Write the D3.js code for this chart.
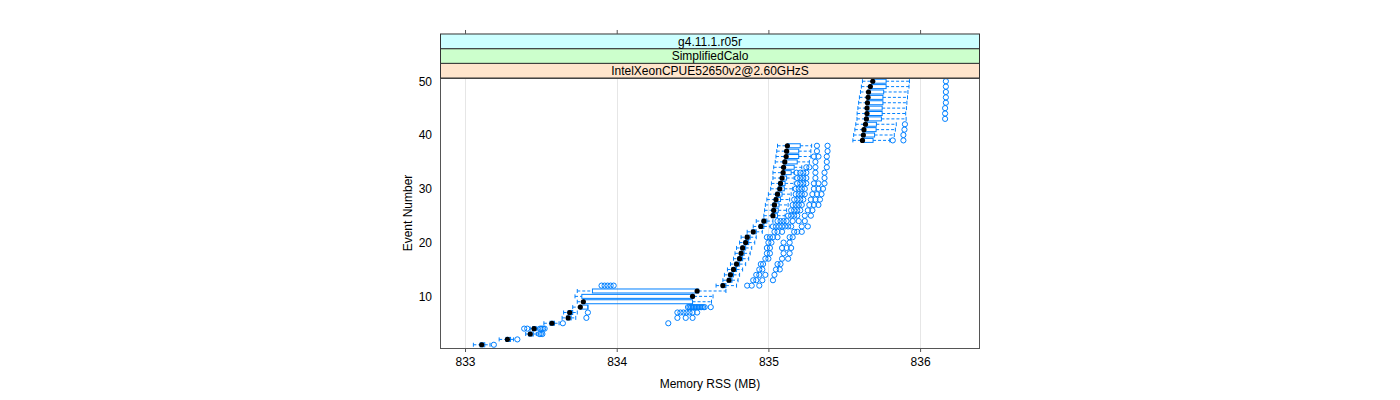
<!DOCTYPE html>
<html><head><meta charset="utf-8">
<script src="https://cdn.jsdelivr.net/npm/d3@7"></script>
<style>body{margin:0;background:#fff}text{font-family:"Liberation Sans",Arial,sans-serif}</style>
</head><body><svg id="c" width="1400" height="400"></svg>
<script>
const events = [1,2,3,4,5,6,7,8,9,10,11,12,13,14,15,16,17,18,19,20,21,22,23,24,25,26,27,28,29,30,31,32,33,34,35,36,37,38,39,40,41,42,43,44,45,46,47,48,49,50];
const wlo = [833.055,833.225,833.40,833.43,833.52,833.64,833.65,833.71,833.74,833.725,833.74,834.655,
  834.70,834.71,834.73,834.75,834.77,834.78,834.79,834.81,834.82,834.86,834.90,834.92,
  834.97,834.975,834.98,834.99,835.00,835.015,835.02,835.03,835.03,835.035,835.045,835.05,835.055,835.06,
  835.557,835.562,835.57,835.576,835.584,835.585,835.59,835.595,835.60,835.607,835.613,835.62];
const q1 = [833.10,833.27,833.42,833.445,833.56,833.67,833.68,833.76,833.78,833.77,833.84,834.69,
  834.73,834.74,834.76,834.78,834.80,834.81,834.82,834.84,834.85,834.89,834.94,834.96,
  835.02,835.025,835.03,835.04,835.05,835.065,835.07,835.08,835.095,835.10,835.105,835.115,835.12,835.125,
  835.615,835.62,835.625,835.635,835.64,835.645,835.645,835.648,835.652,835.655,835.667,835.683];
const med = [833.11,833.28,833.43,833.455,833.573,833.68,833.69,833.76,833.78,834.50,834.53,834.70,
  834.74,834.75,834.77,834.79,834.81,834.82,834.83,834.85,834.86,834.90,834.95,834.97,
  835.03,835.035,835.04,835.05,835.06,835.075,835.08,835.09,835.097,835.10,835.108,835.117,835.12,835.125,
  835.62,835.626,835.63,835.64,835.646,835.65,835.65,835.653,835.657,835.66,835.672,835.688];
const q3 = [833.13,833.30,833.45,833.47,833.59,833.70,833.71,833.81,834.50,834.51,834.54,834.72,
  834.76,834.77,834.79,834.81,834.83,834.84,834.85,834.87,834.88,834.92,834.97,834.99,
  835.06,835.065,835.07,835.08,835.09,835.105,835.11,835.12,835.15,835.17,835.19,835.20,835.20,835.21,
  835.69,835.70,835.71,835.712,835.745,835.75,835.75,835.755,835.755,835.76,835.776,835.776];
const whi = [833.165,833.32,833.47,833.48,833.62,833.73,833.74,833.81,834.625,834.635,834.72,834.79,
  834.80,834.81,834.83,834.85,834.87,834.88,834.89,834.91,834.92,834.96,835.01,835.03,
  835.11,835.12,835.13,835.14,835.15,835.16,835.17,835.17,835.17,835.22,835.27,835.28,835.28,835.285,
  835.80,835.83,835.837,835.843,835.908,835.905,835.91,835.913,835.917,835.92,835.927,835.93];
const outliers = [
  [833.19],[833.345],[833.49,833.50,833.51],[833.39,833.41,833.495,833.505,833.515,833.525],
  [833.645,834.34],[833.80,834.40,834.455,834.50],
  [833.81,834.40,834.42,834.44,834.46,834.48,834.50,834.53],
  [834.47,834.48,834.49,834.50,834.51,834.52,834.53,834.54,834.55,834.56,834.57,834.58,834.62],
  [],[],[],
  [833.90,833.92,833.94,833.96,833.98,834.86,834.89,834.94],
  [834.90,834.92,834.96,835.03],[834.92,834.94,834.98,835.04],[834.94,834.96,835.05,835.075],
  [834.95,834.965,835.06,835.08],[834.98,835.00,835.09,835.13],[834.99,835.01,835.10,835.14],
  [834.99,835.01,835.09,835.12,835.15],[835.00,835.02,835.10,835.14],
  [834.99,835.01,835.03,835.06,835.14,835.16],[835.04,835.06,835.09,835.17,835.19,835.22],
  [835.03,835.05,835.07,835.09,835.11,835.13,835.15,835.22,835.26],
  [835.06,835.08,835.10,835.12,835.16,835.20,835.24],
  [835.13,835.15,835.17,835.19,835.24,835.28],[835.15,835.17,835.19,835.21,835.26,835.29],
  [835.16,835.18,835.20,835.22,835.27,835.30,835.33],[835.17,835.19,835.21,835.23,835.28,835.31,835.34],
  [835.18,835.20,835.22,835.24,835.29,835.32,835.35],[835.18,835.20,835.22,835.24,835.30,835.33,835.36],
  [835.19,835.21,835.23,835.25,835.30,835.33,835.37],[835.19,835.21,835.23,835.25,835.31,835.37],
  [835.185,835.21,835.23,835.25,835.31,835.37],[835.25,835.27,835.31,835.385],
  [835.31,835.385],[835.30,835.33,835.385],[835.32,835.39],[835.32,835.39],
  [835.82,835.89],[835.89],[835.897],[835.90],
  [836.165],[836.165],[836.165],[836.17],[836.17],[836.17],[836.17],[836.17]
];
const xTicks = [833,834,835,836];
const yTicks = [10,20,30,40,50];
const stripLabels = ["IntelXeonCPUE52650v2@2.60GHzS","SimplifiedCalo","g4.11.1.r05r"];
const stripColors = ["#ffe5cc","#ccffcc","#ccffff"];
const xTitle = "Memory RSS (MB)";
const yTitle = "Event Number";

const L=440,R=980,T=78,B=348,SH=14.67;
const svg=d3.select("#c");
const x=d3.scaleLinear().domain([832.835,836.395]).range([L,R]);
const y=d3.scaleLinear().domain([0.4,50.6]).range([B,T]);
const blue="#0080ff";

// grid
svg.append("g").selectAll("line").data(xTicks).join("line")
  .attr("x1",d=>Math.round(x(d))+0.5).attr("x2",d=>Math.round(x(d))+0.5)
  .attr("y1",T).attr("y2",B).attr("stroke","#e6e6e6");

const rows=events.map((e,i)=>({e,wlo:wlo[i],q1:q1[i],med:med[i],q3:q3[i],whi:whi[i],out:outliers[i]}));
const g=svg.append("g");
const bh=2;
// boxes
g.selectAll("rect.box").data(rows).join("rect").attr("class","box")
  .attr("x",d=>x(d.q1)).attr("width",d=>Math.max(0,x(d.q3)-x(d.q1)))
  .attr("y",d=>y(d.e)-bh).attr("height",bh*2)
  .attr("fill","none").attr("stroke",blue).attr("stroke-width",1);
// whiskers
g.selectAll("line.wl").data(rows).join("line").attr("x1",d=>x(d.wlo)).attr("x2",d=>x(d.q1))
  .attr("y1",d=>y(d.e)).attr("y2",d=>y(d.e)).attr("stroke",blue).attr("stroke-dasharray","3,2");
g.selectAll("line.wr").data(rows).join("line").attr("x1",d=>x(d.q3)).attr("x2",d=>x(d.whi))
  .attr("y1",d=>y(d.e)).attr("y2",d=>y(d.e)).attr("stroke",blue).attr("stroke-dasharray","3,2");
g.selectAll("line.cl").data(rows).join("line").attr("x1",d=>x(d.wlo)).attr("x2",d=>x(d.wlo))
  .attr("y1",d=>y(d.e)-bh).attr("y2",d=>y(d.e)+bh).attr("stroke",blue);
g.selectAll("line.cr").data(rows).join("line").attr("x1",d=>x(d.whi)).attr("x2",d=>x(d.whi))
  .attr("y1",d=>y(d.e)-bh).attr("y2",d=>y(d.e)+bh).attr("stroke",blue);
// medians
g.selectAll("circle.med").data(rows).join("circle")
  .attr("cx",d=>x(d.med)).attr("cy",d=>y(d.e)).attr("r",2.6).attr("fill","#000");
// outliers
const outs=rows.flatMap(d=>d.out.map(v=>({e:d.e,v})));
g.selectAll("circle.out").data(outs).join("circle")
  .attr("cx",d=>x(d.v)).attr("cy",d=>y(d.e)).attr("r",2.6)
  .attr("fill","none").attr("stroke",blue).attr("stroke-width",1);

// panel border
svg.append("rect").attr("x",L+0.5).attr("y",T+0.5).attr("width",R-L-1).attr("height",B-T)
  .attr("fill","none").attr("stroke","#555");

// strips
stripLabels.forEach((s,i)=>{
  const y0=T-(i+1)*SH;
  svg.append("rect").attr("x",L+0.5).attr("y",y0).attr("width",R-L-1).attr("height",SH)
    .attr("fill",stripColors[i]).attr("stroke","#333");
  svg.append("text").attr("x",(L+R)/2).attr("y",y0+SH/2+4.3).attr("text-anchor","middle")
    .attr("font-size",12).attr("fill","#000").text(s);
});

// axes
const ax=svg.append("g").attr("transform",`translate(0,${B})`)
  .call(d3.axisBottom(x).tickValues(xTicks).tickSize(4).tickPadding(5).tickFormat(d3.format("d")));
ax.select(".domain").remove();
ax.selectAll("line").attr("stroke","#555");
ax.selectAll("text").attr("font-size",12).attr("font-family","Liberation Sans, Arial, sans-serif").attr("fill","#000");
const topY=T-3*SH;
const at=svg.append("g").attr("transform",`translate(0,${topY})`)
  .call(d3.axisTop(x).tickValues(xTicks).tickSize(4).tickFormat(""));
at.select(".domain").remove();
at.selectAll("line").attr("stroke","#555");
const ay=svg.append("g").attr("transform",`translate(${L},0)`)
  .call(d3.axisLeft(y).tickValues(yTicks).tickSize(0).tickPadding(8));
ay.select(".domain").remove();
ay.selectAll("text").attr("font-size",12).attr("font-family","Liberation Sans, Arial, sans-serif").attr("fill","#000");

svg.append("text").attr("x",(L+R)/2).attr("y",388).attr("text-anchor","middle")
  .attr("font-size",12).attr("fill","#000").text(xTitle);
svg.append("text").attr("transform",`translate(412,${(T+B)/2}) rotate(-90)`).attr("text-anchor","middle")
  .attr("font-size",12).attr("fill","#000").text(yTitle);
</script></body></html>
